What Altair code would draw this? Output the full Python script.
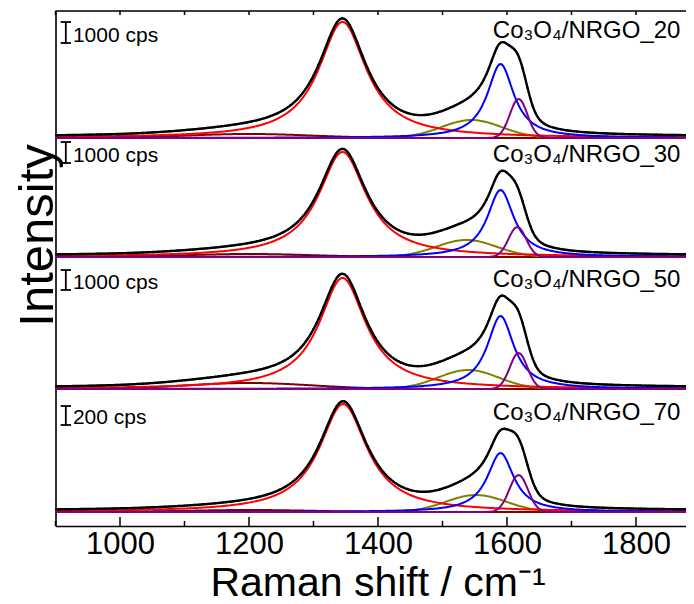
import numpy as np
import pandas as pd
import altair as alt

# ---- panel descriptors (top to bottom) ----
panel_names = ["Co₃O₄/NRGO_20", "Co₃O₄/NRGO_30", "Co₃O₄/NRGO_50", "Co₃O₄/NRGO_70"]
scale_labels = ["1000 cps", "1000 cps", "1000 cps", "200 cps"]
offsets = [388, 269, 137, 14]          # vertical stacking offset of each spectrum
background = [1.5, 1.5, 1.5, 1.5]      # constant background of the fit
name_y = [100, 95, 102, 92]            # label height above each baseline
bar_top = [116, 115, 119, 106]         # scale bar top above baseline
bar_len = [21, 21, 20, 19]             # scale bar length (1000 / 200 cps)

# ---- fitted band parameters ----
# D band (red, Lorentzian)
D_center = [1345, 1345, 1345, 1346]
D_fwhm = [90, 90, 88, 90]
D_height = [116, 105, 111, 108]
# D4 band (maroon, Gaussian)
D4_center = [1200, 1200, 1200, 1200]
D4_fwhm = [230, 230, 230, 230]
D4_height = [4, 3, 6, 2]
# D3 band (olive, Gaussian)
D3_center = [1545, 1537, 1540, 1552]
D3_fwhm = [110, 110, 110, 110]
D3_height = [18, 17, 19, 17]
# G band (blue, Lorentzian)
G_center = [1590, 1590, 1590, 1590]
G_fwhm = [50, 50, 50, 50]
G_height = [74, 67, 73, 59]
# D2 band (purple, Gaussian)
D2_center = [1618, 1616, 1618, 1618]
D2_fwhm = [32, 32, 32, 34]
D2_height = [39, 30, 36, 37]

# ---- axis ticks ----
major_ticks = [1000, 1200, 1400, 1600, 1800]
minor_ticks = [900, 1100, 1300, 1500, 1700]
top_ticks = [900, 1000, 1100, 1200, 1300, 1400, 1500, 1600, 1700, 1800]

PLOT_W = 630.5
PLOT_H = 515
X_MIN = 900
X_MAX = X_MIN + PLOT_W / 0.645   # ~1877.5, the window cuts the frame on the right
Y_MAX = PLOT_H


def lor(x, c, w, h):
    return h / (1.0 + ((x - c) / (w / 2.0)) ** 2)


def gau(x, c, w, h):
    return h * np.exp(-4 * np.log(2) * (x - c) ** 2 / w ** 2)


xs = np.arange(X_MIN, 1900 + 1, 2.0)
comp_defs = [
    ("D4", "#800000", gau, D4_center, D4_fwhm, D4_height),
    ("D3", "#808000", gau, D3_center, D3_fwhm, D3_height),
    ("D", "#FF0000", lor, D_center, D_fwhm, D_height),
    ("G", "#0000FF", lor, G_center, G_fwhm, G_height),
    ("D2", "#800080", gau, D2_center, D2_fwhm, D2_height),
]

comp_frames = {name: [] for name, *_ in comp_defs}
fit_rows = []
for i in range(len(panel_names)):
    total = np.full_like(xs, background[i])
    for name, col, fn, cs, ws, hs in comp_defs:
        v = fn(xs, cs[i], ws[i], hs[i])
        total = total + v
        comp_frames[name].append(pd.DataFrame({"x": xs, "y": v + offsets[i], "panel": i}))
    fit_rows.append(pd.DataFrame({"x": xs, "y": total + offsets[i], "panel": i}))

fit_df = pd.concat(fit_rows)
dots_df = fit_df[(fit_df["x"] % 4) == 0]

xscale = alt.Scale(domain=[X_MIN, X_MAX], nice=False, zero=False)
yscale = alt.Scale(domain=[0, Y_MAX], nice=False, zero=False)

X = alt.X("x:Q", scale=xscale,
          axis=alt.Axis(values=major_ticks, format="d", ticks=False, tickSize=0,
                        domain=True, domainColor="black", domainWidth=1.6,
                        grid=False, labelFontSize=31, labelPadding=3, labelColor="black",
                        title="Raman shift / cm⁻¹", titleFontSize=41, titleFontWeight="normal",
                        titleBaseline="alphabetic", titleAlign="center",
                        titleX=322, titleY=69, titleColor="black"))
Y = alt.Y("y:Q", scale=yscale,
          axis=alt.Axis(labels=False, ticks=False, tickSize=0,
                        domain=True, domainColor="black", domainWidth=1.6, grid=False,
                        title="Intensity", titleFontSize=49, titleFontWeight="normal",
                        titleBaseline="alphabetic", titlePadding=3, titleColor="black",
                        titleY=224))

layers = []
for name, col, *_ in comp_defs:
    df = pd.concat(comp_frames[name])
    layers.append(alt.Chart(df).mark_line(color=col, strokeWidth=2, clip=True)
                  .encode(x=X, y=Y, detail="panel:N"))

layers.append(alt.Chart(fit_df).mark_line(color="black", strokeWidth=2.4, clip=True)
              .encode(x=X, y=Y, detail="panel:N"))
layers.append(alt.Chart(dots_df).mark_point(color="black", filled=True, size=5, opacity=1, clip=True)
              .encode(x=X, y=Y))

# top frame line
frame_df = pd.DataFrame({"x": [X_MIN], "x2": [X_MAX], "y": [Y_MAX]})
layers.append(alt.Chart(frame_df).mark_rule(color="black", strokeWidth=1.6)
              .encode(x="x:Q", x2="x2:Q", y="y:Q"))

# inner ticks
tick_rows = ([{"x": t, "y": 0, "y2": 9} for t in major_ticks] +
             [{"x": t, "y": 0, "y2": 5} for t in minor_ticks] +
             [{"x": t, "y": Y_MAX, "y2": Y_MAX - 4} for t in top_ticks])
tick_df = pd.DataFrame(tick_rows)
layers.append(alt.Chart(tick_df).mark_rule(color="black", strokeWidth=1.5)
              .encode(x="x:Q", y="y:Q", y2="y2:Q"))

# scale bars
bar_x = 916
cap = 8
bar_rows, cap_rows, lab_rows = [], [], []
for i in range(len(panel_names)):
    top = offsets[i] + bar_top[i]
    bot = top - bar_len[i]
    bar_rows.append({"x": bar_x, "y": bot, "y2": top})
    cap_rows.append({"x": bar_x - cap, "x2": bar_x + cap, "y": top})
    cap_rows.append({"x": bar_x - cap, "x2": bar_x + cap, "y": bot})
    lab_rows.append({"x": 927, "y": bot + 1.5, "t": scale_labels[i], "kind": "s"})
    lab_rows.append({"x": 1578, "y": offsets[i] + name_y[i], "t": panel_names[i], "kind": "n"})
layers.append(alt.Chart(pd.DataFrame(bar_rows)).mark_rule(color="black", strokeWidth=1.8)
              .encode(x="x:Q", y="y:Q", y2="y2:Q"))
layers.append(alt.Chart(pd.DataFrame(cap_rows)).mark_rule(color="black", strokeWidth=1.8)
              .encode(x="x:Q", x2="x2:Q", y="y:Q"))
lab_df = pd.DataFrame(lab_rows)
layers.append(alt.Chart(lab_df[lab_df.kind == "s"]).mark_text(align="left", baseline="alphabetic",
                                                              fontSize=21, color="black")
              .encode(x="x:Q", y="y:Q", text="t:N"))
layers.append(alt.Chart(lab_df[lab_df.kind == "n"]).mark_text(align="left", baseline="alphabetic",
                                                              fontSize=24, color="black")
              .encode(x="x:Q", y="y:Q", text="t:N"))

chart = (alt.layer(*layers)
         .properties(width=PLOT_W, height=PLOT_H,
                     autosize=alt.AutoSizeParams(type="none"),
                     padding={"left": 47.5, "top": 3, "right": 0, "bottom": 78})
         .configure_view(stroke=None)
         .configure(font="Liberation Sans", background="white"))

chart.save("out.html", embed_options={"renderer": "svg", "actions": False})
